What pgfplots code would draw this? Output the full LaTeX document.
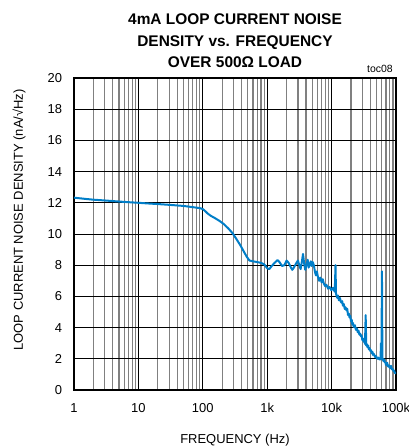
\documentclass[border=0pt]{standalone}
\usepackage{fontspec}
\setmainfont{Liberation Sans}
\usepackage{pgfplots}
\pgfplotsset{compat=1.18}
\definecolor{curve}{RGB}{0,126,200}
\begin{document}
\begin{tikzpicture}
\path[use as bounding box] (-74bp,-56bp) rectangle (335bp,390bp);
\begin{axis}[
  scale only axis, width=322bp, height=312bp,
  xmode=log, xmin=1, xmax=100000, ymin=0, ymax=20,
  xtick={1,10,100,1000,10000,100000},
  xticklabels={1,10,100,1k,10k,100k},
  ytick={0,2,...,20},
  grid=both,
  major grid style={black, line width=0.9bp},
  minor grid style={black!50, line width=1.2bp},
  axis line style={line width=2.4bp},
  major tick length=0pt, minor tick length=0pt,
  tick label style={font=\fontsize{13}{13}\selectfont},
  /pgf/number format/assume math mode=true,
  xticklabel style={yshift=-10bp},
  yticklabel style={xshift=-8.5bp},
  xlabel={FREQUENCY (Hz)},
  ylabel={LOOP CURRENT NOISE DENSITY (nA/√Hz)},
  label style={font=\fontsize{13}{13}\selectfont},
  xlabel style={at={(axis description cs:0.5,0)}, anchor=base, yshift=-53bp},
  ylabel style={at={(axis description cs:-0.1708,0.545)}, anchor=center},
  clip=true,
]
\addplot[curve, line width=2bp, line join=round] coordinates {
(1,12.33) (1.5,12.25) (2,12.2) (3,12.15) (5,12.08) (7,12.04) (10,12.0)
(15,11.95) (20,11.92) (30,11.87) (50,11.8) (70,11.72) (90,11.66) (100,11.6)
(110,11.45) (120,11.3) (135,11.15) (150,11.05) (180,10.85) (210,10.65)
(250,10.35) (290,10.05) (330,9.7) (380,9.3) (430,8.9) (480,8.55) (530,8.3)
(600,8.25) (700,8.2) (800,8.15) (900,8.05) (1000,7.8) (1080,7.75) (1150,7.9)
(1300,8.15) (1450,8.33) (1550,8.2) (1700,7.95) (1850,8.0) (2000,8.3)
(2150,8.15) (2300,7.9) (2450,7.7) (2600,7.85) (2800,8.1) (3000,8.3)
(3150,8.0) (3300,7.75) (3450,8.2) (3600,8.72) (3750,8.1) (3900,7.7)
(4050,8.0) (4250,8.35) (4400,7.85) (4550,8.0) (4750,8.25) (4900,7.95)
(5100,8.2) (5300,8.0) (5500,7.6) (5700,7.35) (5900,7.6) (6100,7.3)
(6400,7.0) (6700,7.2) (7000,6.9) (7300,7.1) (7600,6.8) (8000,6.65)
(8300,6.75) (8800,6.5) (9300,6.6) (9900,6.4) (10500,6.55) (11200,6.3)
(11500,8.0) (11700,6.2) (12000,6.0) (12300,5.9) (12600,6.05) (13000,5.75)
(13500,5.9) (13800,5.7) (14200,5.6) (14600,5.7) (15000,5.4) (15500,5.5)
(16000,5.2) (16500,5.3) (17000,5.1) (17500,5.2) (18000,4.8) (18500,4.9)
(19000,4.65) (19500,4.75) (20000,4.4) (20500,4.5) (21000,4.2) (21500,4.3)
(22000,4.05) (23000,4.15) (23500,3.95) (24000,3.85) (24700,3.95)
(25500,3.7) (26200,3.8) (27000,3.55) (27700,3.62) (28500,3.45) (29200,3.5)
(30000,3.2) (30700,3.3) (31500,3.1) (32200,3.15) (33000,2.95) (33800,4.8)
(34500,2.85) (35200,2.95) (36000,2.75) (37000,2.85) (38000,2.6) (39000,2.68)
(40000,2.5) (41000,2.55) (42000,2.35) (43000,2.45) (44000,2.25) (45000,2.32)
(46000,2.25) (47000,2.15) (48000,2.1) (49000,2.18) (50000,2.05) (52000,2.0)
(53000,2.08) (54000,2.0) (56000,1.95) (57500,2.0) (58500,3.0)
(59500,2.0) (60500,7.6) (61500,1.95) (63000,2.0) (64000,1.85) (66000,1.95)
(67000,1.8) (68500,1.75) (70000,1.6) (71500,1.72) (73000,1.75) (74500,1.55)
(76000,1.5) (78000,1.58) (80000,1.45) (82000,1.4) (84000,1.55) (86000,1.35)
(88000,1.3) (90000,1.33) (92000,1.2) (94000,1.22) (96000,1.1) (100000,1.05)
};
\end{axis}
\begin{scope}[font=\bfseries\fontsize{15.5}{15.5}\selectfont]
\node[anchor=base] at (161bp,365bp) {4mA LOOP CURRENT NOISE};
\node[anchor=base] at (161bp,343bp) {DENSITY vs. FREQUENCY};
\node[anchor=base] at (161bp,322bp) {OVER 500Ω LOAD};
\end{scope}
\node[anchor=base east, font=\fontsize{10.5}{10.5}\selectfont, inner sep=0pt] at (319bp,317bp) {toc08};
\end{tikzpicture}
\end{document}
